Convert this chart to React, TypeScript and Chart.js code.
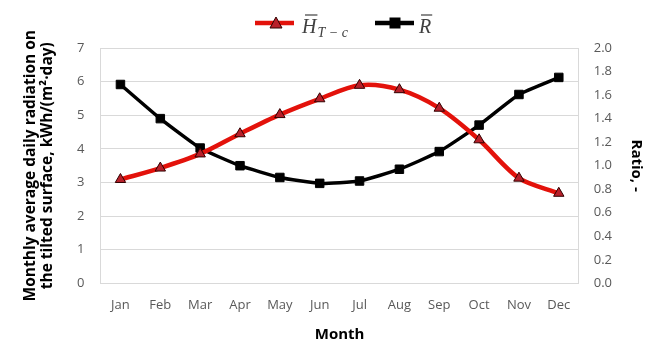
import React, { useEffect, useRef } from "react";
import { Chart, registerables } from "chart.js";

Chart.register(...registerables);

const months = ["Jan", "Feb", "Mar", "Apr", "May", "Jun", "Jul", "Aug", "Sep", "Oct", "Nov", "Dec"];
const radiation = [3.09, 3.43, 3.85, 4.45, 5.02, 5.49, 5.89, 5.76, 5.21, 4.27, 3.13, 2.68];
const ratio = [1.69, 1.4, 1.15, 1.0, 0.9, 0.85, 0.87, 0.97, 1.12, 1.345, 1.605, 1.75];

const FONT = "'Open Sans', Lato, sans-serif";
const MATH = "'Liberation Serif', 'DejaVu Serif', serif";
const RED = "#e3120b";
const RED_FILL = "#b8202a";

const legendPlugin = {
  id: "mathLegend",
  afterDraw(chart: any) {
    const ctx = chart.ctx;
    ctx.save();
    const y = 23;
    ctx.strokeStyle = RED;
    ctx.lineWidth = 4.5;
    ctx.beginPath();
    ctx.moveTo(255, y);
    ctx.lineTo(294, y);
    ctx.stroke();
    ctx.fillStyle = RED_FILL;
    ctx.strokeStyle = "#300000";
    ctx.lineWidth = 1;
    ctx.beginPath();
    ctx.moveTo(276, y - 6);
    ctx.lineTo(282, y + 5);
    ctx.lineTo(270, y + 5);
    ctx.closePath();
    ctx.fill();
    ctx.stroke();
    ctx.fillStyle = "#404040";
    ctx.textBaseline = "alphabetic";
    ctx.font = "italic 20px " + MATH;
    ctx.fillText("H", 302, 33);
    const hw = ctx.measureText("H").width;
    ctx.strokeStyle = "#404040";
    ctx.lineWidth = 1.2;
    ctx.beginPath();
    ctx.moveTo(305, 15);
    ctx.lineTo(302 + hw + 1, 15);
    ctx.stroke();
    ctx.font = "italic 14px " + MATH;
    ctx.fillText("T \u2212 c", 302 + hw + 1, 37);
    ctx.strokeStyle = "#000000";
    ctx.lineWidth = 4.5;
    ctx.beginPath();
    ctx.moveTo(375, y);
    ctx.lineTo(414, y);
    ctx.stroke();
    ctx.fillStyle = "#000";
    ctx.fillRect(389.5, y - 5.5, 11, 11);
    ctx.fillStyle = "#404040";
    ctx.font = "italic 20px " + MATH;
    ctx.fillText("R", 419, 33);
    const rw = ctx.measureText("R").width;
    ctx.strokeStyle = "#404040";
    ctx.lineWidth = 1.2;
    ctx.beginPath();
    ctx.moveTo(421, 15);
    ctx.lineTo(419 + rw + 1, 15);
    ctx.stroke();
    ctx.restore();
  },
};

export default function App() {
  const ref = useRef<HTMLCanvasElement>(null);
  useEffect(() => {
    document.body.style.margin = "0";
    const chart = new Chart(ref.current!, {
      type: "line",
      data: {
        labels: months,
        datasets: [
          {
            label: "H_T-c",
            data: radiation,
            yAxisID: "y",
            borderColor: RED,
            borderWidth: 4.5,
            tension: 0.3,
            pointStyle: "triangle",
            pointRadius: 6,
            pointBackgroundColor: RED_FILL,
            pointBorderColor: "#300000",
            pointBorderWidth: 1,
          },
          {
            label: "R",
            data: ratio,
            yAxisID: "y1",
            borderColor: "#000000",
            borderWidth: 3.5,
            tension: 0.15,
            pointStyle: "rect",
            pointRadius: 6,
            pointBackgroundColor: "#000",
            pointBorderColor: "#000",
            pointBorderWidth: 1,
          },
        ],
      },
      options: {
        animation: false,
        responsive: false,
        layout: { padding: { top: 48, left: 18, right: 0, bottom: 0 } },
        plugins: { legend: { display: false }, tooltip: { enabled: false } },
        scales: {
          x: {
            offset: true,
            grid: { display: false, drawTicks: false },
            border: { display: true, color: "#d9d9d9" },
            ticks: { color: "#595959", font: { family: FONT, size: 13 }, padding: 14 },
            title: {
              display: true,
              text: "Month",
              color: "#000",
              font: { family: FONT, size: 15, weight: "bold", lineHeight: 1.0 },
              padding: { top: 0, bottom: 0 },
            },
          },
          y: {
            position: "left",
            min: 0,
            max: 7,
            ticks: { stepSize: 1, color: "#595959", font: { family: FONT, size: 13 }, padding: 16 },
            grid: { color: "#d9d9d9", drawTicks: false },
            border: { display: true, color: "#d9d9d9" },
            title: {
              display: true,
              text: ["Monthly average daily radiation on", "the tilted surface, kWh/(m\u00b2\u00b7day)"],
              color: "#000",
              font: { family: FONT, size: 15.5, weight: "bold", lineHeight: 1.1 },
              padding: { top: 4, bottom: 5 },
            },
          },
          y1: {
            position: "right",
            min: 0,
            max: 2,
            ticks: {
              stepSize: 0.2,
              color: "#595959",
              font: { family: FONT, size: 13 },
              padding: 15,
              callback: (v: any) => Number(v).toFixed(1),
            },
            grid: { display: false, drawTicks: false },
            border: { display: true, color: "#d9d9d9" },
            title: {
              display: true,
              text: "Ratio, -",
              color: "#000",
              font: { family: FONT, size: 15, weight: "bold" },
              padding: { top: 8, bottom: 0 },
            },
          },
        },
      },
      plugins: [legendPlugin],
    });
    return () => chart.destroy();
  }, []);
  return (
    <div style={{ width: 653, height: 342, background: "#fff" }}>
      <canvas ref={ref} width={653} height={342} />
    </div>
  );
}
